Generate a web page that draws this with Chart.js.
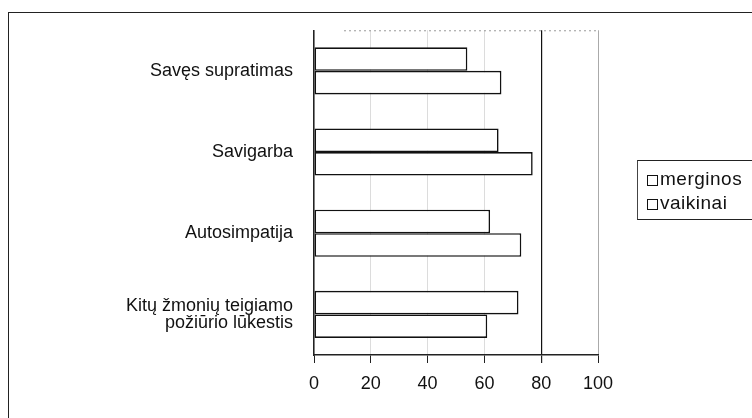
<!DOCTYPE html>
<html>
<head>
<meta charset="utf-8">
<script src="https://cdn.jsdelivr.net/npm/chart.js@4"></script>
<style>
  html, body { margin:0; padding:0; background:#fff; }
  #wrap { position:relative; width:752px; height:418px; overflow:hidden; font-family:"Liberation Sans", Arial, sans-serif; }
  #frame { position:absolute; left:8px; top:12px; width:800px; height:500px; border-top:1.5px solid #222; border-left:1.5px solid #222; }
  #legend { position:absolute; left:637px; top:160px; width:140px; height:58px; border-top:1.5px solid #222; border-bottom:1.5px solid #222; border-left:1px solid #444; }
  .item { position:absolute; left:9px; font-size:19px; letter-spacing:0.5px; color:#111; line-height:20px; }
  .sq { display:inline-block; width:9px; height:9px; border:1.5px solid #111; margin-right:2px; vertical-align:-1px; }
  canvas { position:absolute; left:0; top:0; }
</style>
</head>
<body>
<div id="wrap">
  <div id="frame"></div>
  <canvas id="chart" width="752" height="418"></canvas>
  <div id="legend"></div>
</div>
<script>
// ---- duomenys ----
const categories = ['Savęs supratimas', 'Savigarba', 'Autosimpatija', ['Kitų žmonių teigiamo', 'požiūrio lūkestis']];
const seriesNames = ['merginos', 'vaikinai'];
const merginos = [54, 65, 62, 72];
const vaikinai = [66, 77, 73, 61];
const xTicks = [0, 20, 40, 60, 80, 100];

// ---- legenda (HTML) ----
const lg = document.getElementById('legend');
seriesNames.forEach((n, i) => {
  const d = document.createElement('div');
  d.className = 'item';
  d.style.top = (8 + i * 24) + 'px';
  d.innerHTML = '<span class="sq"></span>' + n;
  lg.appendChild(d);
});

const FONT = "'Liberation Sans', Arial, sans-serif";

// faint dotted line on top of the plot area
const topLine = {
  id: 'topLine',
  beforeDatasetsDraw(chart) {
    const { ctx, chartArea: a } = chart;
    ctx.save();
    ctx.strokeStyle = '#999';
    ctx.lineWidth = 1;
    ctx.setLineDash([2, 3]);
    ctx.beginPath();
    ctx.moveTo(a.left + 30, a.top + 0.5);
    ctx.lineTo(a.right, a.top + 0.5);
    ctx.stroke();
    ctx.restore();
  }
};

new Chart(document.getElementById('chart'), {
  type: 'bar',
  data: {
    labels: categories,
    datasets: [
      { label: seriesNames[0], data: merginos, backgroundColor:'#fff', borderColor:'#111', borderWidth:1.6, borderSkipped:false },
      { label: seriesNames[1], data: vaikinai, backgroundColor:'#fff', borderColor:'#111', borderWidth:1.6, borderSkipped:false }
    ]
  },
  options: {
    indexAxis: 'y',
    responsive: false, animation: false,
    categoryPercentage: 0.58, barPercentage: 1.0,
    layout: { padding: { top: 22, right: 154, bottom: 0, left: 0 } },
    plugins: { legend: { display:false }, tooltip: { enabled:false } },
    scales: {
      x: {
        min: 0, max: 100,
        afterBuildTicks: (s) => { s.ticks = xTicks.map(v => ({ value: v })); },
        afterFit: (s) => { s.height = 63; },
        grid: {
          color: (c) => c.tick && c.tick.value === 80 ? '#111' : (c.tick && c.tick.value === 100 ? '#aaa' : '#dcdcdc'),
          lineWidth: (c) => c.tick && c.tick.value === 80 ? 1.2 : 1,
          tickColor: '#222', tickLength: 8
        },
        border: { display:true, color:'#222', width:1.5 },
        ticks: { color:'#111', padding: 10, font:{ size:18, family:FONT } }
      },
      y: {
        afterFit: (s) => { s.width = 314; },
        grid: { display:false },
        border: { display:true, color:'#222', width:1.5 },
        ticks: { color:'#111', padding: 13, font:{ size:18, family:FONT, lineHeight:0.96 } }
      }
    }
  },
  plugins: [topLine]
});
</script>
</body>
</html>
